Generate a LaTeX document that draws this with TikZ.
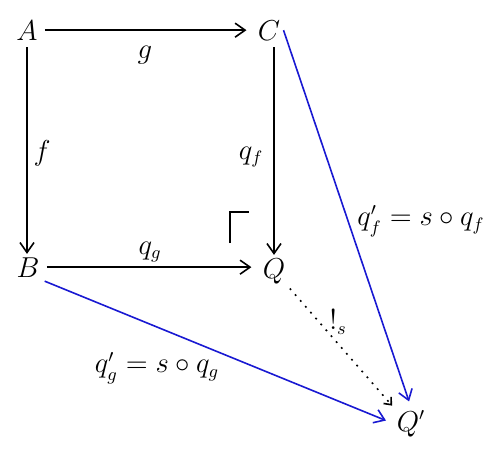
\documentclass[tikz,border=0pt]{standalone}
\usetikzlibrary{arrows.meta}
\definecolor{arrblue}{RGB}{25,25,210}
\begin{document}
\begin{tikzpicture}[x=0.5pt,y=-0.5pt,
  every node/.style={font=\fontsize{13.5}{16}\selectfont},
  obj/.style={inner sep=1.5pt,anchor=base},
  lbl/.style={inner sep=0pt},
  arr/.style={line width=0.8pt,-{Straight Barb[length=5pt,width=7pt]}},
  barr/.style={arr,draw=arrblue},
  darr/.style={line width=0.8pt,dash pattern=on 0.9pt off 3pt,-{Straight Barb[length=3pt,width=5pt]}},
]
\useasboundingbox (0,0) rectangle (500,457);
% objects
\node[obj] (A) at (27,40) {$A$};
\node[obj] (C) at (269,40) {$C$};
\node[obj] (B) at (28,277) {$B$};
\node[obj] (Q) at (274,278) {$Q$};
\node[obj] (Qp) at (411,431) {$Q'$};
% black square
\draw[arr,shorten <=2pt,shorten >=4pt] (A.east) -- (C.west);
\draw[arr,shorten <=2pt] (A.south) -- (A.south |- B.north);
\draw[arr,shorten <=2pt,shorten >=4pt] (B.east) -- (B.east -| Q.west);
\draw[arr,shorten <=2pt] (Q.north |- C.south) -- (Q.north);
% blue arrows
\draw[barr,shorten >=3pt] (C.east) -- (Qp.north);
\draw[barr,shorten <=1pt,shorten >=4pt] (B.south east) -- (Qp.west);
% dotted unique arrow
\draw[darr,shorten <=1pt,shorten >=1pt] (Q.south east) -- (Qp.north west);
% pullback corner
\coordinate (pbA) at (230,243);
\coordinate (pbB) at (230,212);
\coordinate (pbC) at (249,212);
\draw[line width=0.8pt] (pbA) -- (pbB) -- (pbC);
% labels
\node[lbl] (lg) at (145,55) {$g$};
\node[lbl] (lf) at (42,153) {$f$};
\node[lbl] (lqf) at (251,157) {$q_f$};
\node[lbl] (lqg) at (150,252) {$q_g$};
\node[lbl] (lqpf) at (421,221) {$q'_f = s\circ q_f$};
\node[lbl] (lqpg) at (157,368) {$q'_g = s\circ q_g$};
\node[lbl] (ls) at (338,322) {$!_s$};
\end{tikzpicture}
\end{document}
